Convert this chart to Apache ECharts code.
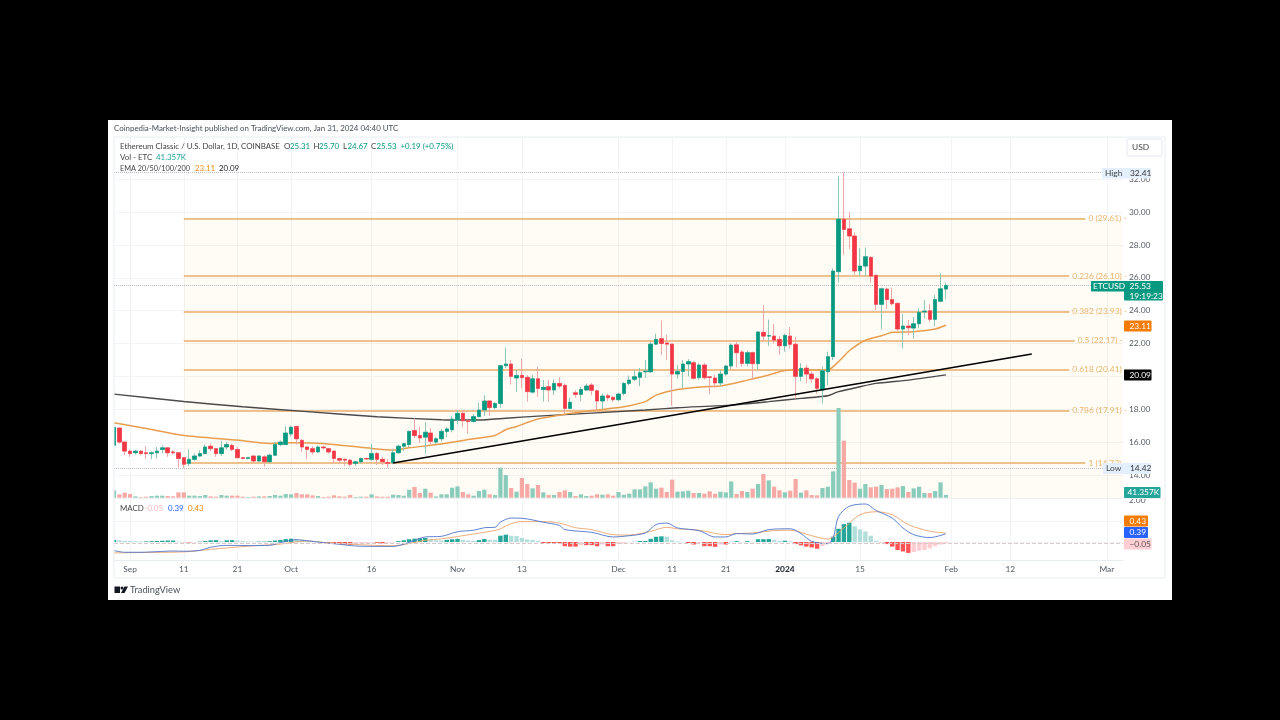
<!DOCTYPE html>
<html>
<head>
<meta charset="utf-8">
<title>ETCUSD</title>
<script src="https://cdn.jsdelivr.net/npm/echarts@6/dist/echarts.min.js"></script>
<style>
  html, body { margin: 0; padding: 0; background: #000; }
  #main { width: 1280px; height: 720px; filter: blur(0.35px); }
</style>
</head>
<body>
<div id="main"></div>
<script>
// price candles, one entry per day from 29 Aug 2023 to 31 Jan 2024
const opens = [
  15.8,16.85,16.0,15.45,15.35,15.45,15.35,15.3,15.35,15.55,
  15.65,15.4,15.35,15.05,14.7,14.95,15.15,15.3,15.75,15.6,
  15.3,15.7,15.8,15.55,15.05,15.0,15.15,14.85,15.1,14.8,
  15.2,15.85,15.85,16.5,16.95,16.1,15.7,15.6,15.4,15.7,
  15.6,15.45,15.0,14.95,14.9,14.7,14.8,15.0,14.95,15.3,
  14.95,14.75,14.75,15.35,15.75,15.85,16.7,16.4,16.3,16.55,
  16.0,16.2,16.65,16.75,17.35,17.75,17.3,17.25,17.55,17.95,
  18.5,18.1,18.35,20.65,20.75,19.9,20.06,19.94,19.04,19.85,
  19.2,19.37,19.17,19.57,19.45,18.05,19.0,18.9,19.17,19.47,
  19.12,18.5,18.82,18.72,18.58,18.96,19.57,19.82,19.94,20.28,
  20.28,21.96,22.29,22.03,21.96,20.14,20.3,20.75,20.83,19.92,
  20.69,19.97,19.9,19.6,20.14,20.63,21.92,21.48,20.79,21.44,
  20.77,22.68,22.45,22.45,22.25,21.86,22.45,21.95,20.0,20.5,
  20.14,19.85,19.17,20.28,21.2,26.37,29.57,28.98,28.54,26.43,
  26.71,27.24,26.15,24.38,25.31,24.67,24.44,22.88,23.06,22.94,
  23.2,23.92,23.99,23.47,24.57,25.31
];
const closes = [
  16.9,16.0,15.45,15.3,15.45,15.3,15.3,15.35,15.45,15.65,
  15.35,15.35,15.0,14.65,14.95,15.15,15.3,15.7,15.6,15.3,
  15.65,15.85,15.55,15.05,15.0,15.05,14.85,15.15,14.8,15.2,
  15.85,16.0,16.55,16.9,16.2,15.7,15.55,15.4,15.7,15.65,
  15.4,15.0,14.9,14.9,14.65,14.8,15.0,14.97,15.3,14.95,
  14.8,14.7,15.35,15.75,15.9,16.65,16.4,16.25,16.6,16.05,
  16.2,16.65,16.8,17.4,17.75,17.3,17.25,17.55,17.95,18.5,
  18.1,18.35,20.65,20.75,20.0,20.05,19.92,19.07,19.85,19.27,
  19.33,19.17,19.57,19.41,18.05,18.42,18.9,19.2,19.41,19.15,
  18.5,18.8,18.7,18.58,18.92,19.57,19.77,19.98,20.22,20.32,
  21.96,22.25,22.0,21.96,20.14,20.3,20.75,20.9,19.88,20.69,
  19.92,19.93,19.6,20.14,20.63,21.9,21.44,20.79,21.44,20.77,
  22.7,22.45,22.48,22.2,21.86,22.49,21.95,20.0,20.48,20.14,
  19.85,19.27,20.34,21.2,26.41,29.57,28.94,28.54,26.41,26.71,
  27.28,26.1,24.38,25.33,24.67,24.42,22.88,23.06,22.96,23.2,
  23.9,23.97,23.47,24.67,25.33,25.53
];
const lows = [
  15.7,15.9,15.2,15.1,15.25,15.2,15.0,14.95,15.0,15.3,
  15.1,15.25,14.45,14.42,14.55,14.85,15.1,15.25,15.45,15.1,
  15.15,15.55,15.45,15.0,14.95,14.95,14.75,14.8,14.5,14.75,
  15.15,15.75,15.85,16.35,15.85,15.4,14.95,15.25,15.35,15.55,
  15.3,14.65,14.65,14.55,14.5,14.55,14.7,14.9,14.85,14.6,
  14.6,14.45,14.65,15.3,15.45,15.7,16.25,15.95,15.3,15.85,
  15.9,16.05,16.3,16.6,17.1,16.9,16.5,17.2,17.5,17.6,
  17.6,18.0,18.1,20.5,19.5,19.05,19.27,18.46,18.96,18.76,
  18.46,18.46,18.86,19.27,17.75,18.0,18.7,18.5,19.1,18.85,
  17.9,18.0,18.5,18.45,18.5,18.85,19.45,19.7,19.4,19.9,
  20.2,21.9,21.3,21.0,18.2,19.85,19.3,20.0,19.8,19.8,
  19.8,18.9,19.3,19.4,20.05,20.45,20.55,20.6,20.6,19.8,
  20.4,22.1,21.85,22.0,21.3,21.5,21.7,18.65,19.7,19.6,
  19.6,18.95,18.35,19.46,20.99,25.72,27.4,27.75,26.17,26.1,
  26.1,25.7,24.04,22.88,24.1,24.3,22.75,21.7,22.5,22.27,
  22.92,23.53,23.3,23.05,24.5,24.67
];
const highs = [
  17.0,16.9,16.05,15.55,15.5,15.5,15.75,15.45,15.7,15.8,
  15.7,15.5,15.4,15.1,15.55,15.3,15.5,15.85,15.9,15.65,
  16.05,16.0,15.9,15.7,15.1,15.1,15.2,15.2,15.2,15.3,
  16.0,16.1,16.95,17.0,17.0,16.2,15.75,15.75,15.8,15.75,
  15.65,15.5,15.05,15.0,14.95,14.85,15.05,15.05,15.9,15.4,
  15.1,14.95,15.6,15.85,15.95,16.7,17.45,16.95,17.2,16.85,
  16.3,16.8,16.9,17.6,17.95,17.95,17.35,17.7,18.4,18.85,
  18.55,18.45,20.7,21.75,21.0,20.4,21.09,20.08,20.08,20.59,
  19.77,19.77,19.8,19.94,19.57,18.7,19.15,19.35,19.55,19.6,
  19.2,18.95,18.95,18.8,19.0,19.65,20.05,20.4,20.5,21.0,
  22.1,22.6,23.4,22.55,22.0,20.7,21.0,21.05,20.95,20.8,
  20.8,20.0,20.1,20.4,20.7,22.0,22.1,21.6,21.55,21.5,
  22.7,24.35,23.45,23.2,22.45,22.6,23.0,22.4,20.8,20.7,
  20.3,19.95,20.6,21.5,26.57,32.21,32.41,29.98,28.76,27.79,
  27.85,27.3,26.2,25.4,25.4,25.4,24.5,23.79,23.43,23.6,
  24.14,24.64,24.4,24.95,26.27,25.7
];
// volume in thousands
const volumes = [
  110,50,75,55,20,10,15,25,30,30,
  25,20,80,80,30,30,25,40,20,15,
  40,30,30,30,15,10,15,20,20,25,
  40,30,55,50,70,50,50,35,25,10,
  15,35,20,15,40,10,15,15,50,20,
  15,15,45,40,30,120,160,70,135,75,
  20,50,50,150,170,85,50,30,100,120,
  50,40,450,340,145,90,295,205,140,190,
  80,40,40,85,110,85,25,50,25,30,
  50,45,50,30,85,45,60,125,125,170,
  230,135,150,85,270,90,95,105,70,70,
  60,95,60,90,80,245,55,100,85,135,
  205,355,260,165,110,80,105,280,75,110,
  40,35,145,165,395,1345,855,265,225,135,
  205,155,165,190,130,135,155,175,85,140,
  165,70,70,100,230,41.357
];
const macdHist = [
  .1,.08,.06,.05,.04,.03,.03,.04,.05,.06,
  .07,.07,.02,-.01,-.02,-.01,.02,.05,.08,.09,
  .05,.08,.09,.07,.05,.03,.02,.02,.02,.04,
  .07,.1,.14,.16,.14,.1,.05,.03,.01,-.01,
  -.04,-.08,-.1,-.12,-.14,-.1,-.07,-.06,-.03,-.04,
  -.06,-.04,-.01,.04,.08,.13,.16,.18,.19,.12,
  .08,.07,.1,.13,.15,.1,.07,.06,.09,.14,
  .11,.1,.3,.35,.3,.28,.2,.12,.1,.06,
  -.05,-.05,-.05,-.05,-.2,-.22,-.22,-.15,-.15,-.15,
  -.2,-.12,-.2,-.2,-.1,-.07,-.01,.01,.05,.05,
  .15,.25,.27,.25,.08,.03,.01,-.05,-.12,-.05,
  -.2,-.2,-.23,-.12,-.12,.01,.04,.01,.04,.01,
  .13,.13,.14,.09,.06,.06,.03,-.1,-.16,-.22,
  -.26,-.32,-.2,-.1,.25,.63,.85,.92,.75,.6,
  .5,.3,.06,-.01,-.1,-.22,-.38,-.45,-.52,-.48,
  -.42,-.38,-.3,-.2,-.12,-.05
];
// lines read at the days where they bend: [day index, value]
const macdLine = [[0,-.41],[2,-.49],[5,-.49],[8,-.46],[11,-.43],[13,-.44],[16,-.4],[18,-.25],[21,-.16],[25,-.17],[29,-.16],[31,-.03],[34,.11],[36,.06],[39,-.03],[42,-.11],[45,-.19],[49,-.21],[52,-.21],[55,-.02],[58,.24],[61,.27],[64,.49],[67,.56],[69,.68],[71,.7],[72,.95],[74,1.14],[76,1.13],[78,1.05],[80,.94],[83,.79],[84,.59],[89,.46],[93,.24],[96,.3],[99,.43],[101,.83],[103,.9],[105,.67],[109,.54],[112,.24],[114,.24],[116,.4],[119,.38],[122,.59],[126,.63],[128,.4],[130,.03],[133,-.08],[134,.19],[135,1.22],[137,1.7],[140,1.81],[142,1.5],[145,1.14],[147,.67],[149,.35],[152,.21],[155,.39]];
const macdSignal = [[0,-.52],[5,-.5],[13,-.47],[18,-.35],[25,-.2],[31,-.1],[36,.05],[39,-.02],[45,-.12],[52,-.18],[58,.08],[61,.15],[67,.38],[71,.55],[72,.63],[74,.87],[76,.97],[78,.97],[80,.97],[83,.9],[86,.68],[89,.59],[93,.35],[96,.33],[100,.51],[103,.7],[105,.63],[109,.56],[114,.35],[116,.4],[119,.43],[123,.54],[126,.56],[130,.3],[133,.14],[136,.67],[139,1.3],[142,1.44],[145,1.3],[148,.83],[152,.51],[155,.43]];
const ema50 = [[0,17.18],[7,16.77],[13,16.4],[23,16.12],[29,15.92],[33,15.96],[39,15.92],[48,15.61],[52,15.51],[55,15.65],[61,15.88],[67,16.2],[71,16.4],[73,16.75],[75,16.95],[79,17.4],[84,17.7],[90,17.95],[95,18.15],[99,18.46],[101,18.86],[105,19.2],[110,19.37],[113,19.41],[118,19.77],[122,20.08],[125,20.36],[129,20.38],[133,20.38],[135,20.89],[137,21.56],[140,22.2],[143,22.47],[145,22.68],[149,22.72],[153,22.88],[155,23.11]];
const ema200 = [[0,18.92],[13,18.47],[24,18.15],[36,17.85],[49,17.54],[61,17.36],[68,17.34],[73,17.45],[79,17.58],[99,17.95],[105,18.09],[115,18.25],[122,18.46],[128,18.66],[133,18.82],[135,19.07],[139,19.37],[142,19.57],[148,19.77],[155,20.09]];
const trendLine = [[52,14.73],[171,21.36]];

const fibRatios = ['0','0.236','0.382','0.5','0.618','0.786','1'];
const fibPrices = [29.61,26.10,23.93,22.17,20.41,17.91,14.73];
const fibFirstDay = 13;
const fibLastDay = [181,178,178,179,178,178,181];
const priceLevels = [32.41,25.53,14.42];

const tickDays = ['2023-09-01','2023-09-11','2023-09-21','2023-10-01','2023-10-16','2023-11-01','2023-11-13','2023-12-01','2023-12-11','2023-12-21','2024-01-01','2024-01-15','2024-02-01','2024-02-12','2024-03-01'];
const tickLabels = ['Sep','11','21','Oct','16','Nov','13','Dec','11','21','2024','15','Feb','12','Mar'];

const days = [];
for (let t = Date.UTC(2023,7,29); t <= Date.UTC(2024,2,4); t += 86400000) {
  days.push(new Date(t).toISOString().slice(0,10));
}

const FONT = 'Lato';
const TEXT_SIZE = 8.4;
const HEAD_SIZE = 7.9;
const UP = '#089981', DOWN = '#f23645';
const GRIDLINE = '#f3f4f6';
const AXIS_TEXT = '#555a66';

const tickIndex = {};
tickDays.forEach((d,i) => { tickIndex[days.indexOf(d)] = tickLabels[i]; });
const isTick = i => tickIndex[i] !== undefined;

const candleData = opens.map((o,i) => [o, closes[i], lows[i], highs[i]]);
const bodyData = opens.map((o,i) => [o, closes[i], Math.min(o,closes[i]), Math.max(o,closes[i])]);

const histColor = (v,i) => {
  const prev = i > 0 ? macdHist[i-1] : v;
  if (v >= 0) return v >= prev ? '#26a69a' : '#b2dfdb';
  return v <= prev ? '#ff5252' : '#ffcdd2';
};

const fibMarks = fibPrices.map((p,i) => [
  { coord:[fibFirstDay,p], label:{ formatter: fibRatios[i]+' ('+p.toFixed(2)+') -' } },
  { coord:[fibLastDay[i],p] }
]);

const txt = (x,y,text,color,size) => ({
  type:'text', x, y, z:100,
  style: { text, fill:color||'#444', font:(size||TEXT_SIZE)+'px "'+FONT+'"', verticalAlign:'middle' }
});
const box = (x,y,w,h,fill,extra) => ({
  type:'rect', z:99, shape:{ x, y, width:w, height:h, r:1 }, style:Object.assign({ fill }, extra||{})
});

const graphics = [
  // white card, left margin that hides the half candle, pane frame
  { type:'rect', z:-10, silent:true, shape:{ x:108, y:120, width:1064, height:480 }, style:{ fill:'#fff' } },
  { type:'rect', z:97, silent:true, shape:{ x:108, y:137, width:6, height:441 }, style:{ fill:'#fff' } },
  { type:'rect', z:98, silent:true, shape:{ x:114, y:137, width:1051, height:441 }, style:{ fill:'none', stroke:'#e8edf0', lineWidth:1 } },
  { type:'line', z:98, shape:{ x1:114, y1:498.5, x2:1165, y2:498.5 }, style:{ stroke:'#eef0f3', lineWidth:1 } },
  txt(114,128.5,'Coinpedia-Market-Insight published on TradingView.com, Jan 31, 2024 04:40 UTC','#4a4f5a',HEAD_SIZE),
  // header rows
  txt(120,146.5,'Ethereum Classic / U.S. Dollar, 1D, COINBASE','#444',HEAD_SIZE),
  txt(284,146.5,'O','#444',HEAD_SIZE), txt(290,146.5,'25.31',UP,HEAD_SIZE),
  txt(313.5,146.5,'H','#444',HEAD_SIZE), txt(319,146.5,'25.70',UP,HEAD_SIZE),
  txt(343,146.5,'L','#444',HEAD_SIZE), txt(347.5,146.5,'24.67',UP,HEAD_SIZE),
  txt(371,146.5,'C','#444',HEAD_SIZE), txt(376.5,146.5,'25.53',UP,HEAD_SIZE),
  txt(400.5,146.5,'+0.19 (+0.75%)',UP,HEAD_SIZE),
  txt(120,157.5,'Vol - ETC','#444',HEAD_SIZE), txt(156,157.5,'41.357K','#26a69a',HEAD_SIZE),
  txt(120,168.5,'EMA 20/50/100/200','#444',7.3), txt(195,168.5,'23.11','#ef8a17',HEAD_SIZE), txt(219,168.5,'20.09','#222',HEAD_SIZE),
  txt(120,508,'MACD','#444',HEAD_SIZE), txt(144.5,508,'-0.05','#f4b7bb',HEAD_SIZE), txt(168,508,'0.39','#2962ff',HEAD_SIZE), txt(188,508,'0.43','#ef8a17',HEAD_SIZE),
  // currency button
  box(1127,139,35,17,'#fff',{ stroke:'#e6e8ee', lineWidth:1 }), txt(1132,147.5,'USD','#444'),
  // price scale badges
  box(1102,168,49,10.5,'#e3effd'), txt(1105,173,'High','#444'), txt(1130,173.5,'32.41','#333'),
  box(1103,463,48,11,'#e3effd'), txt(1106,468.5,'Low','#444'), txt(1130,468.5,'14.42','#333'),
  box(1091,281,72,10.5,UP), box(1124,290,39,10.5,UP),
  txt(1093,286,'ETCUSD','#fff'), txt(1129.5,286,'25.53','#fff'), txt(1129.5,296,'19:19:23','#fff'),
  box(1124,320.5,27.5,11,'#f57c00'), txt(1129.5,326,'23.11','#fff'),
  box(1124,369.5,27.5,11,'#000'), txt(1129.5,375,'20.09','#fff'),
  box(1124,487,36.5,11,'#26a69a'), txt(1127.5,492.5,'41.357K','#fff'),
  box(1124,515.5,24,11,'#f57c00'), txt(1129.5,521,'0.43','#fff'),
  box(1124,527,24,11,'#2962ff'), txt(1129.5,532.5,'0.39','#fff'),
  box(1124,538.5,27.5,11,'#ffcdd2'), txt(1129.5,544,'−0.05','#555'),
  // logo
  { type:'rect', z:100, shape:{ x:114.5, y:586.5, width:5.5, height:6.5 }, style:{ fill:'#131722' } },
  { type:'circle', z:100, shape:{ cx:122, cy:588, r:1.5 }, style:{ fill:'#131722' } },
  { type:'polygon', z:100, shape:{ points:[[124.5,586.5],[128,586.5],[124.5,593],[121,593]] }, style:{ fill:'#131722' } },
  txt(130,590,'TradingView','#4a4f5a',9.3)
];

const chart = echarts.init(document.getElementById('main'));
chart.setOption({
  backgroundColor: '#000',
  animation: false,
  textStyle: { fontFamily: FONT },
  grid: [
    { left:114, width:1009, top:137, height:423 },   // backdrop with the time axis
    { left:114, width:1009, top:146.3, height:361.5 }, // price, 34 to 12
    { left:114, width:1009, top:408, height:89.7 },  // volume
    { left:114, width:1009, top:500, height:63 }     // macd, 2 to -1
  ],
  xAxis: [0,1,2,3].map(g => ({
    type:'category', gridIndex:g, data:days, boundaryGap:false,
    axisTick:{ show:false },
    axisLine:{ show:g===0, lineStyle:{ color:'#e8edf0' } },
    axisLabel: g===0 ? {
      show:true, interval:(i)=>isTick(i), margin:5, color:AXIS_TEXT, fontSize:TEXT_SIZE, fontFamily:FONT,
      formatter:(v,i)=> tickIndex[i]==='2024' ? '{b|2024}' : (tickIndex[i]||''),
      rich:{ b:{ fontWeight:'bold', color:'#131722', fontSize:TEXT_SIZE, fontFamily:FONT } }
    } : { show:false },
    splitLine: g===0 ? { show:true, interval:(i)=>isTick(i), lineStyle:{ color:GRIDLINE, width:1 } } : { show:false }
  })),
  yAxis: [
    { gridIndex:0, type:'value', show:false, min:0, max:1, splitLine:{ show:false } },
    { gridIndex:1, type:'value', position:'right', min:12, max:34, interval:2, scale:true,
      axisLine:{ show:false }, axisTick:{ show:false },
      axisLabel:{ show:true, margin:6, color:AXIS_TEXT, fontSize:TEXT_SIZE, fontFamily:FONT, padding:[3,0,0,0], showMinLabel:false, showMaxLabel:false, formatter:v=>v.toFixed(2) },
      splitLine:{ show:true, showMinLine:false, showMaxLine:false, lineStyle:{ color:GRIDLINE, width:1 } } },
    { gridIndex:2, type:'value', show:false, min:0, max:1345, splitLine:{ show:false } },
    { gridIndex:3, type:'value', position:'right', min:-1, max:2, interval:1,
      axisLine:{ show:false }, axisTick:{ show:false },
      axisLabel:{ show:true, margin:6, color:AXIS_TEXT, fontSize:TEXT_SIZE, fontFamily:FONT, padding:[3,0,0,0], showMinLabel:false, formatter:v=>v.toFixed(2) },
      splitLine:{ show:true, showMinLine:false, showMaxLine:false, lineStyle:{ color:GRIDLINE, width:1 } } }
  ],
  graphic: graphics,
  series: [
    { // fibonacci retracement
      type:'line', xAxisIndex:1, yAxisIndex:1, data:[], z:1, silent:true,
      markArea:{ silent:true, z:1, itemStyle:{ color:'rgba(255,180,60,0.05)' },
        data:[[{ coord:[fibFirstDay,fibPrices[0]] },{ coord:[188,12.59] }]] },
      markLine:{ silent:true, z:2, symbol:'none', animation:false,
        lineStyle:{ color:'#e7ad68', type:'solid', width:1.5 },
        label:{ show:true, position:'end', distance:3, color:'#e8b570', fontSize:TEXT_SIZE, fontFamily:FONT },
        data:fibMarks }
    },
    { // volume
      type:'bar', xAxisIndex:2, yAxisIndex:2, barWidth:4.2, z:2, silent:true,
      data: volumes.map((v,i)=>({ value:v, itemStyle:{ color: closes[i]>=opens[i] ? '#8accbb' : '#f5a8a4' } }))
    },
    { type:'line', xAxisIndex:1, yAxisIndex:1, data:ema200, symbol:'none', z:3, silent:true, smooth:0.2, lineStyle:{ color:'#4a4a4a', width:1.4 } },
    { type:'line', xAxisIndex:1, yAxisIndex:1, data:ema50, symbol:'none', z:3, silent:true, smooth:0.2, lineStyle:{ color:'#e89e4e', width:1.5 } },
    { // wicks
      type:'candlestick', xAxisIndex:1, yAxisIndex:1, barWidth:4, z:4, silent:true, data:candleData,
      itemStyle:{ color:'#8cc7b8', color0:'#eda9a9', borderColor:'#8cc7b8', borderColor0:'#eda9a9', borderWidth:1 },
      markLine:{ silent:true, z:2, symbol:'none', animation:false, label:{ show:false },
        lineStyle:{ color:'#b9bcc4', type:'dotted', width:1 },
        data: priceLevels.map(p=>({ yAxis:p })) }
    },
    { // bodies
      type:'candlestick', xAxisIndex:1, yAxisIndex:1, barWidth:4, z:5, silent:true, data:bodyData,
      itemStyle:{ color:UP, color0:DOWN, borderColor:UP, borderColor0:DOWN, borderWidth:0.5 }
    },
    { type:'line', xAxisIndex:1, yAxisIndex:1, data:trendLine, symbol:'none', z:6, silent:true, lineStyle:{ color:'#000', width:1.6 } },
    { // macd
      type:'bar', xAxisIndex:3, yAxisIndex:3, barWidth:4.4, z:2, silent:true,
      data: macdHist.map((v,i)=>({ value:v, itemStyle:{ color:histColor(v,i) } })),
      markLine:{ silent:true, symbol:'none', animation:false, label:{ show:false },
        lineStyle:{ color:'#d9c9cb', type:'dashed', width:1 }, data:[{ yAxis:macdHist[155] }] }
    },
    { type:'line', xAxisIndex:3, yAxisIndex:3, data:macdSignal, symbol:'none', z:3, silent:true, smooth:0.3, lineStyle:{ color:'#e9a46b', width:0.9 } },
    { type:'line', xAxisIndex:3, yAxisIndex:3, data:macdLine, symbol:'none', z:3, silent:true, smooth:0.3, lineStyle:{ color:'#4f74c9', width:0.9 } }
  ]
});
</script>
</body>
</html>
